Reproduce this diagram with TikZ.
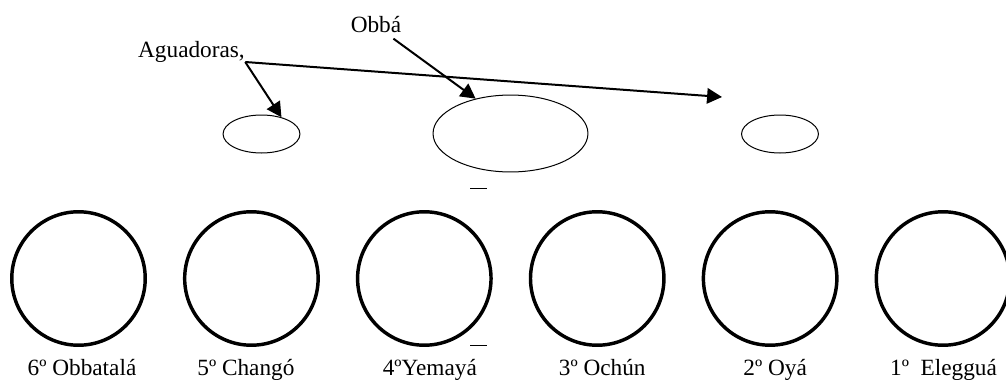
\documentclass[tikz,border=0pt]{standalone}
\usepackage{fontspec}
\setmainfont{Liberation Serif}
\usetikzlibrary{calc,positioning,shapes,arrows.meta}
\tikzset{
	ring/.style={draw,circle,line width=1.9pt,minimum size=73.4pt,inner sep=0pt},
	pot/.style={draw,ellipse,line width=0.55pt,minimum width=42.3pt,minimum height=20.9pt,inner sep=0pt},
	bigpot/.style={pot,minimum width=85.2pt,minimum height=42.3pt},
	saint/.style={anchor=base,font=\fontsize{12.8}{15}\selectfont},
	pointer/.style={-{Triangle[length=8.2pt,width=8.5pt]},line width=1.1pt}
}

\begin{document}
\begin{tikzpicture}[x=0.55pt,y=-0.55pt,node distance=19.8pt]
\useasboundingbox (0,0) rectangle (1006,380);

\node[ring] (c1) at (78.5,278.5) {};
\node[ring,right=of c1] (c2) {};
\node[ring,right=of c2] (c3) {};
\node[ring,right=of c3] (c4) {};
\node[ring,right=of c4] (c5) {};
\node[ring,right=of c5] (c6) {};

\node[saint] (n1) at ($(c1.center)+(3.5,96.5)$) {6º Obbatalá};
\node[saint] (n2) at ($(c2.center)+(-5.5,96.5)$) {5º Changó};
\node[saint] (n3) at ($(c3.center)+(5.5,96.5)$) {4ºYemayá};
\node[saint] (n4) at ($(c4.center)+(5,96.5)$) {3º Ochún};
\node[saint] (n5) at ($(c5.center)+(5,96.5)$) {2º Oyá};
\node[saint] (n6) at ($(c6.center)+(0.5,96.5)$) {1º~~Elegguá};

\node[pot] (e1) at (261.5,134) {};
\node[bigpot] (e2) at (510.5,133.5) {};
\node[pot] (e3) at (780,134) {};

\node[saint] (ag) at (191.5,58) {Aguadoras,};
\node[saint] (ob) at (376,32) {Obbá};

\coordinate (agtail) at ($(ag.base east)+(-6,4)$);
\coordinate (mark) at (722,97);

\draw[pointer] (agtail) -- (e1.40);
\draw[pointer] (agtail) -- (mark);
\draw[pointer] (ob.-40) -- (e2.135);

% stray dashes
\draw[line width=0.55pt] (470,188) -- (487,188);
\draw[line width=0.55pt] (470,345) -- (487,345);

\end{tikzpicture}
\end{document}
